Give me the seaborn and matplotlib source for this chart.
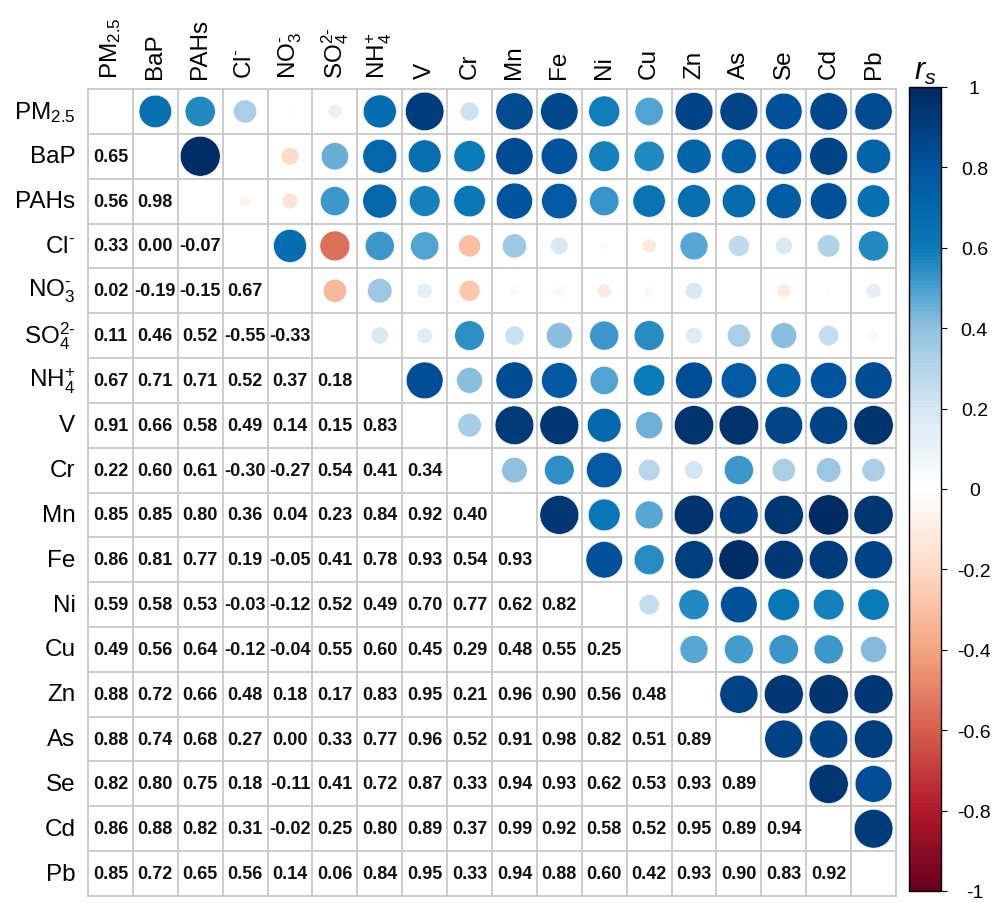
import numpy as np
import pandas as pd
import matplotlib
matplotlib.use("Agg")
import matplotlib.pyplot as plt
import seaborn as sns
from matplotlib.patches import Circle
from matplotlib.colors import Normalize, LinearSegmentedColormap

# Species names (mathtext for ionic charges / subscripts)
labels = [r"PM$_{2.5}$", "BaP", "PAHs", r"Cl$^{\text{-}}$", r"NO$_3^{\text{-}}$",
          r"SO$_4^{\text{2-}}$", r"NH$_4^{+}$", "V", "Cr", "Mn", "Fe", "Ni", "Cu",
          "Zn", "As", "Se", "Cd", "Pb"]

# Spearman coefficients, lower triangle (row i holds columns 0..i-1)
r_pm25 = []
r_bap = [0.65]
r_pahs = [0.56, 0.98]
r_cl = [0.33, 0.00, -0.07]
r_no3 = [0.02, -0.19, -0.15, 0.67]
r_so4 = [0.11, 0.46, 0.52, -0.55, -0.33]
r_nh4 = [0.67, 0.71, 0.71, 0.52, 0.37, 0.18]
r_v = [0.91, 0.66, 0.58, 0.49, 0.14, 0.15, 0.83]
r_cr = [0.22, 0.60, 0.61, -0.30, -0.27, 0.54, 0.41, 0.34]
r_mn = [0.85, 0.85, 0.80, 0.36, 0.04, 0.23, 0.84, 0.92, 0.40]
r_fe = [0.86, 0.81, 0.77, 0.19, -0.05, 0.41, 0.78, 0.93, 0.54, 0.93]
r_ni = [0.59, 0.58, 0.53, -0.03, -0.12, 0.52, 0.49, 0.70, 0.77, 0.62, 0.82]
r_cu = [0.49, 0.56, 0.64, -0.12, -0.04, 0.55, 0.60, 0.45, 0.29, 0.48, 0.55, 0.25]
r_zn = [0.88, 0.72, 0.66, 0.48, 0.18, 0.17, 0.83, 0.95, 0.21, 0.96, 0.90, 0.56, 0.48]
r_as = [0.88, 0.74, 0.68, 0.27, 0.00, 0.33, 0.77, 0.96, 0.52, 0.91, 0.98, 0.82, 0.51, 0.89]
r_se = [0.82, 0.80, 0.75, 0.18, -0.11, 0.41, 0.72, 0.87, 0.33, 0.94, 0.93, 0.62, 0.53, 0.93, 0.89]
r_cd = [0.86, 0.88, 0.82, 0.31, -0.02, 0.25, 0.80, 0.89, 0.37, 0.99, 0.92, 0.58, 0.52, 0.95, 0.89, 0.94]
r_pb = [0.85, 0.72, 0.65, 0.56, 0.14, 0.06, 0.84, 0.95, 0.33, 0.94, 0.88, 0.60, 0.42, 0.93, 0.90, 0.83, 0.92]

lower_rows = [r_pm25, r_bap, r_pahs, r_cl, r_no3, r_so4, r_nh4, r_v, r_cr, r_mn,
              r_fe, r_ni, r_cu, r_zn, r_as, r_se, r_cd, r_pb]

cbar_ticks = [1, 0.8, 0.6, 0.4, 0.2, 0, -0.2, -0.4, -0.6, -0.8, -1]
cbar_labels = ["1", "0.8", "0.6", "0.4", "0.2", "0", "-0.2", "-0.4", "-0.6", "-0.8", "-1"]

# Diverging red-white-blue palette, anchored on the coefficient scale
pal_stops = [-1.0, -0.8, -0.6, -0.4, -0.2, 0.0, 0.2, 0.4, 0.5, 0.6, 0.8, 1.0]
pal_colors = ["#67001F", "#B2182B", "#D6604D", "#F4A582", "#FDDBC7", "#FFFFFF",
              "#D6E7F3", "#92C2E0", "#4AA0D0", "#0A7AB8", "#0055A0", "#002A60"]

# Full symmetric matrix
n = len(labels)
corr = np.eye(n)
for i, row in enumerate(lower_rows):
    for j, v in enumerate(row):
        corr[i, j] = v
        corr[j, i] = v
df = pd.DataFrame(corr, index=labels, columns=labels)

sns.set_style("white")
plt.rcParams["font.family"] = ["Liberation Sans", "DejaVu Sans"]
plt.rcParams["mathtext.fontset"] = "custom"
plt.rcParams["mathtext.rm"] = "Liberation Sans"
plt.rcParams["mathtext.it"] = "Liberation Sans:italic"
plt.rcParams["mathtext.bf"] = "Liberation Sans:bold"
plt.rcParams["axes.unicode_minus"] = False
plt.rcParams["text.color"] = "black"
plt.rcParams["xtick.color"] = "black"
plt.rcParams["ytick.color"] = "black"
plt.rcParams["axes.labelcolor"] = "black"

cmap = LinearSegmentedColormap.from_list(
    "rs_div", [((s + 1) / 2, c) for s, c in zip(pal_stops, pal_colors)], N=256)
norm = Normalize(vmin=-1, vmax=1)

W, H = 997, 904
fig = plt.figure(figsize=(W / 100, H / 100), dpi=100)
ax = fig.add_axes([88 / W, 1 - 897 / H, 808 / W, 807 / H])
cax = fig.add_axes([909 / W, 1 - 892 / H, 32 / W, 804 / H])

# Empty heatmap: provides the cell layout, tick labels and colour bar
sns.heatmap(df, mask=np.ones_like(corr, dtype=bool), cmap=cmap, vmin=-1, vmax=1,
            ax=ax, cbar_ax=cax, xticklabels=True, yticklabels=True,
            cbar_kws={"ticks": cbar_ticks})

# Cell grid
grid_col = "#c8c8c8"
for k in range(n + 1):
    ax.axhline(k, color=grid_col, lw=1.3, clip_on=False, zorder=1)
    ax.axvline(k, color=grid_col, lw=1.3, clip_on=False, zorder=1)

# Upper triangle: circles (area ~ |r|), lower triangle: values
for i in range(n):
    for j in range(n):
        v = corr[i, j]
        if j > i:
            rad = 0.45 * np.sqrt(abs(v))
            if rad > 0:
                ax.add_patch(Circle((j + 0.5, i + 0.5), rad, facecolor=cmap(norm(v)),
                                    edgecolor="white", lw=0.4, zorder=2))
        elif j < i:
            ax.text(j + 0.5, i + 0.5, f"{v:.2f}", ha="center", va="center",
                    fontsize=13, fontweight="bold", color="#111111", zorder=3)

# Axis labels
ax.xaxis.tick_top()
ax.set_xticklabels(labels, rotation=90, fontsize=17.5, ha="center", va="bottom",
                   color="black")
ax.set_yticklabels(labels, rotation=0, fontsize=17.5, ha="right", va="center",
                   color="black")
ax.tick_params(axis="x", length=0, pad=8)
ax.tick_params(axis="y", length=0, pad=9)
ax.set_xlabel("")
ax.set_ylabel("")
for s in ax.spines.values():
    s.set_visible(False)

# Colour bar styling
cbar = ax.collections[0].colorbar
cbar.outline.set_edgecolor("black")
cbar.outline.set_linewidth(1.0)
cax.set_yticks(cbar_ticks)
cax.set_yticklabels(cbar_labels, ha="center")
cax.tick_params(axis="y", labelsize=14, length=4, width=0.8, direction="out",
                pad=20, colors="black")
cax.set_title(r"$r_s$", fontsize=22, pad=6, color="black")

fig.savefig("out.png", dpi=100)
